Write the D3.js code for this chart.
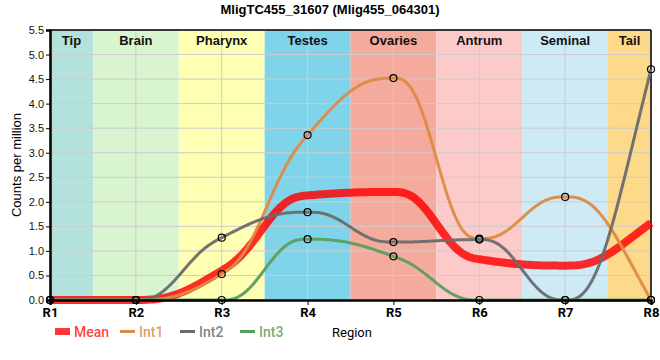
<!DOCTYPE html>
<html><head><meta charset="utf-8">
<script src="https://cdn.jsdelivr.net/npm/d3@7"></script>
<style>
body{margin:0;background:#fff;}
svg{display:block;}
</style></head>
<body><svg id="chart" width="660" height="360"></svg>
<script>
const regions = ["R1","R2","R3","R4","R5","R6","R7","R8"];
const bandLabels = ["Tip","Brain","Pharynx","Testes","Ovaries","Antrum","Seminal","Tail"];
const bandColors = ["#b3e2dd","#d8f5d0","#ffffb3","#80d4ea","#f4aa9c","#fdcaca","#ceeaf4","#fdd98a"];
const int1 = [0, 0, 0.53, 3.36, 4.52, 1.25, 2.10, 0];
const int2 = [0, 0, 1.27, 1.79, 1.18, 1.23, 0, 4.70];
const int3 = [0, 0, 0, 1.24, 0.89, 0, 0, 0];
const meanVals = [0, 0, 0.60, 2.13, 2.20, 0.83, 0.70, 1.57];
const yTicks = [0,0.5,1,1.5,2,2.5,3,3.5,4,4.5,5,5.5];
const seriesNames = ["Int1","Int2","Int3"];
const seriesColors = ["#de8a44","#6b6b6b","#5a9e5e"];

// Custom d3 curve: monotone tangents (as d3.curveMonotoneX) with quintic Hermite segments
function QuinticMonotone(context){ this._context = context; }
QuinticMonotone.prototype = {
  areaStart(){ this._line = 0; }, areaEnd(){ this._line = NaN; },
  lineStart(){ this._pts = []; },
  point(px, py){ this._pts.push([+px, +py]); },
  lineEnd(){
    const p = this._pts, n = p.length, c = this._context;
    if (!n) return;
    const sgn = v => v < 0 ? -1 : 1;
    const tan = new Array(n).fill(0);
    for (let i = 1; i < n - 1; i++) {
      const h0 = p[i][0]-p[i-1][0], h1 = p[i+1][0]-p[i][0];
      const s0 = (p[i][1]-p[i-1][1])/h0, s1 = (p[i+1][1]-p[i][1])/h1;
      const q = (s0*h1 + s1*h0)/(h0+h1);
      tan[i] = (sgn(s0)+sgn(s1)) * Math.min(Math.abs(s0), Math.abs(s1), 0.5*Math.abs(q)) || 0;
    }
    if (n > 2) {
      tan[0] = (3*(p[1][1]-p[0][1])/(p[1][0]-p[0][0]) - tan[1]) / 2;
      tan[n-1] = (3*(p[n-1][1]-p[n-2][1])/(p[n-1][0]-p[n-2][0]) - tan[n-2]) / 2;
    }
    c.moveTo(p[0][0], p[0][1]);
    const N = 40;
    for (let i = 0; i < n - 1; i++) {
      const [x0,y0] = p[i], [x1,y1] = p[i+1], h = x1 - x0;
      for (let k = 1; k <= N; k++) {
        const t = k/N, t3 = t*t*t, t4 = t3*t, t5 = t4*t;
        const S = 10*t3 - 15*t4 + 6*t5;
        const A = t - 6*t3 + 8*t4 - 3*t5;
        const B = -4*t3 + 7*t4 - 3*t5;
        c.lineTo(x0 + h*t, y0 + (y1-y0)*S + h*(tan[i]*A + tan[i+1]*B));
      }
    }
  }
};
const curveQuintic = ctx => new QuinticMonotone(ctx);

const svg = d3.select("#chart");
const m = {l:50, r:9, t:30, b:60};
const W = 660, H = 360;
const x = d3.scalePoint().domain(regions).range([m.l, W - m.r]);
const y = d3.scaleLinear().domain([0,5.5]).range([H - m.b, m.t]);
const step = x.step();

const g = svg.append("g");
const bandL = i => Math.max(m.l, x(regions[i]) - step/2);
const bandR = i => Math.min(W - m.r, x(regions[i]) + step/2);
g.selectAll("rect.band").data(bandLabels).join("rect")
  .attr("x", (d,i) => bandL(i))
  .attr("width", (d,i) => bandR(i) - bandL(i))
  .attr("y", m.t).attr("height", H - m.b - m.t)
  .attr("fill", (d,i) => bandColors[i]);

g.selectAll("line.hg").data(yTicks).join("line")
  .attr("x1", m.l).attr("x2", W - m.r)
  .attr("y1", d => y(d)).attr("y2", d => y(d))
  .attr("stroke", "#cccccc").attr("stroke-width", 1);
g.selectAll("line.vg").data(regions).join("line")
  .attr("x1", d => x(d)).attr("x2", d => x(d))
  .attr("y1", m.t).attr("y2", H - m.b)
  .attr("stroke", "#cccccc").attr("stroke-width", 1);

g.selectAll("text.bl").data(bandLabels).join("text")
  .attr("x", (d,i) => (bandL(i) + bandR(i))/2)
  .attr("y", m.t + 15)
  .attr("text-anchor","middle")
  .attr("font-family","Liberation Sans, Arial, sans-serif")
  .attr("font-weight","bold").attr("font-size", 13)
  .attr("fill","#111").text(d => d);

svg.append("line").attr("x1", m.l).attr("x2", W - m.r).attr("y1", m.t).attr("y2", m.t)
  .attr("stroke","#000").attr("stroke-width",1.5);
svg.append("line").attr("x1", W - m.r).attr("x2", W - m.r).attr("y1", m.t).attr("y2", H - m.b)
  .attr("stroke","#000").attr("stroke-width",1.5);

const line = (vals) => d3.line().x((d,i) => x(regions[i])).y(d => y(d)).curve(curveQuintic)(vals);
svg.append("path").attr("d", line(meanVals)).attr("fill","none")
  .attr("stroke","#ff0000").attr("stroke-opacity",0.82).attr("stroke-width",8);
[int1,int2,int3].forEach((vals,k) => {
  svg.append("path").attr("d", line(vals)).attr("fill","none")
    .attr("stroke", seriesColors[k]).attr("stroke-width",3).attr("stroke-opacity",0.95);
});

const xAxis = svg.append("g").attr("transform",`translate(0,${H - m.b})`)
  .call(d3.axisBottom(x).tickSize(5).tickPadding(3));
xAxis.select(".domain").attr("stroke","#000").attr("stroke-width",2.5);
xAxis.selectAll("text").attr("font-family","Roboto, sans-serif").attr("font-weight","bold")
  .attr("font-size",13).attr("fill","#000");
const yAxis = svg.append("g").attr("transform",`translate(${m.l},0)`)
  .call(d3.axisLeft(y).tickValues(yTicks).tickFormat(d3.format(".1f")).tickSize(4).tickPadding(2));
yAxis.select(".domain").attr("stroke","#000").attr("stroke-width",2.5);
yAxis.selectAll("text").attr("font-family","Liberation Sans, Arial, sans-serif")
  .attr("font-size",11).attr("fill","#111");

[int1,int2,int3].forEach(vals => {
  svg.append("g").selectAll("circle").data(vals).join("circle")
    .attr("cx",(d,i) => x(regions[i])).attr("cy", d => y(d)).attr("r",3.5)
    .attr("fill","none").attr("stroke","#000").attr("stroke-width",1.2);
});

svg.append("text").attr("x", 330).attr("y", 14).attr("text-anchor","middle")
  .attr("font-family","Liberation Sans, Arial, sans-serif").attr("font-weight","bold")
  .attr("font-size",13).text("MligTC455_31607 (Mlig455_064301)");

svg.append("text").attr("transform","translate(21,165) rotate(-90)").attr("text-anchor","middle")
  .attr("font-family","Liberation Sans, Arial, sans-serif").attr("font-size",13)
  .text("Counts per million");
svg.append("text").attr("x",332).attr("y",337)
  .attr("font-family","Roboto, sans-serif").attr("font-size",13).text("Region");

const leg = svg.append("g");
const legItems = [
  {name:"Mean", color:"#ff2020", x:55, thick:true},
  {name:seriesNames[0], color:seriesColors[0], x:120},
  {name:seriesNames[1], color:seriesColors[1], x:180},
  {name:seriesNames[2], color:seriesColors[2], x:240}
];
legItems.forEach(it => {
  if (it.thick) {
    leg.append("rect").attr("x", it.x).attr("y", 328).attr("width",15).attr("height",7).attr("fill", it.color).attr("opacity",0.9);
  } else {
    leg.append("line").attr("x1", it.x).attr("x2", it.x+15).attr("y1",331.5).attr("y2",331.5)
      .attr("stroke", it.color).attr("stroke-width",3);
  }
  leg.append("text").attr("x", it.x + 19).attr("y", 337)
    .attr("font-family","Roboto, sans-serif").attr("font-size",14).attr("font-weight",500)
    .attr("fill", it.color).attr("fill-opacity",0.85).text(it.name);
});
</script></body></html>
